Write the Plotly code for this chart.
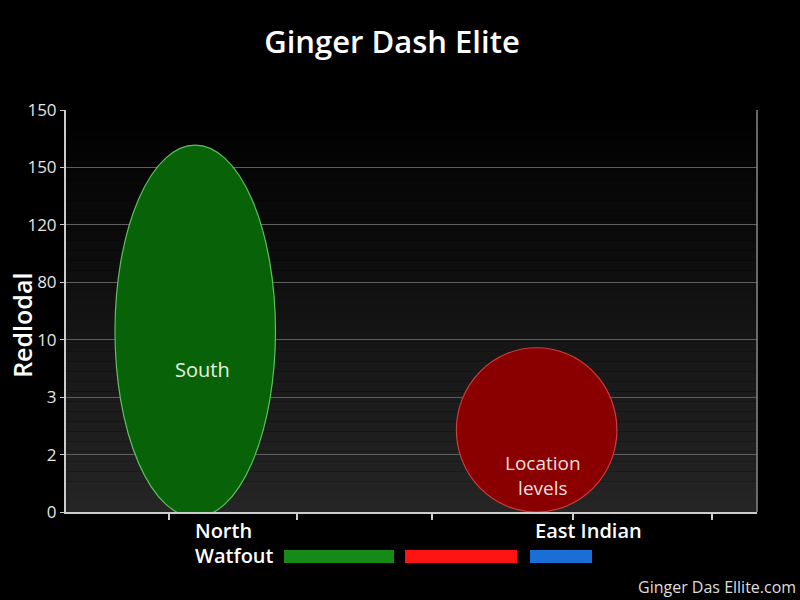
import plotly.graph_objects as go

# ---- data ----
shape_names = ["South", "Location levels"]
shape_x_center = [0.95, 3.46]
shape_x_half = [0.59, 0.59]
shape_y_low = [-0.09, 0.0]
shape_y_high = [6.39, 2.86]
shape_fill = ["#086208", "#8a0000"]
shape_edge = ["#5fbf5f", "#c84040"]

y_tick_vals = [0, 1, 2, 3, 4, 5, 6, 7]
y_tick_text = ["0", "2", "3", "10", "80", "120", "150", "150"]
x_tick_vals = [0.76, 1.7, 2.69, 3.73, 4.75]
x_labels = ["North", "East Indian"]
x_label_pos = [0.93, 3.43]
legend_title = "Watfout"
legend_colors = ["#168a16", "#ff1414", "#1a6fd6"]

FONT = "Open Sans, Segoe UI, DejaVu Sans, sans-serif"

fig = go.Figure()

# invisible trace to establish axes
fig.add_trace(go.Scatter(x=[shape_x_center[0]], y=[0], mode="markers",
                         marker=dict(opacity=0), showlegend=False, hoverinfo="skip"))

shapes = []
# gradient plot background
n = 40
for i in range(n):
    c = int(38 * (1 - (i + 0.5) / n))
    shapes.append(dict(type="rect", xref="x domain", yref="y domain",
                       x0=0, x1=1, y0=i / n, y1=(i + 1) / n,
                       fillcolor=f"rgb({c},{c},{c})", line=dict(width=0), layer="below"))

for cx, hw, lo, hi, fc, ec in zip(shape_x_center, shape_x_half, shape_y_low, shape_y_high, shape_fill, shape_edge):
    shapes.append(dict(type="circle", xref="x", yref="y",
                       x0=cx - hw, x1=cx + hw, y0=lo, y1=hi,
                       fillcolor=fc, line=dict(color=ec, width=1.2), layer="above"))

# right border
shapes.append(dict(type="line", xref="x domain", yref="y domain", x0=1, x1=1, y0=0, y1=1,
                   line=dict(color="#888888", width=1.5)))

# legend swatches
sw = [(0.3155, 0.4747), (0.4906, 0.6527), (0.6715, 0.7612)]
for (a, b), col in zip(sw, legend_colors):
    shapes.append(dict(type="rect", xref="paper", yref="paper", x0=a, x1=b,
                       y0=-0.1269, y1=-0.0945, fillcolor=col, line=dict(width=0)))

annotations = [
    dict(text="South", x=1.0, y=2.49, xref="x", yref="y", showarrow=False,
         font=dict(family=FONT, size=20, color="#e6f5e0")),
    dict(text="Location<br>levels", x=3.51, y=0.64, xref="x", yref="y", showarrow=False,
         font=dict(family=FONT, size=19, color="#f4dede")),
    dict(text="Redlodal", x=-0.064, y=0.465, xref="paper", yref="paper", showarrow=False,
         xanchor="center", yanchor="middle",
         textangle=-90, font=dict(family=FONT, size=25, color="#ffffff", weight=600)),
    dict(text=legend_title, x=0.184, y=-0.109, xref="paper", yref="paper", showarrow=False,
         xanchor="left", yanchor="middle", font=dict(family=FONT, size=20, color="#ffffff", weight=600)),
    dict(text="Ginger Das Ellite.com", x=1.0593, y=-0.1866, xref="paper", yref="paper",
         showarrow=False, xanchor="right", yanchor="middle",
         font=dict(family=FONT, size=16, color="#dddddd")),
]
for lab, pos in zip(x_labels, x_label_pos):
    annotations.append(dict(text=lab, x=pos, y=-0.047, xref="x", yref="paper", showarrow=False,
                            xanchor="left", yanchor="middle",
                            font=dict(family=FONT, size=20, color="#ffffff", weight=600)))

fig.update_layout(
    width=800, height=600,
    paper_bgcolor="#000000", plot_bgcolor="#000000",
    margin=dict(l=66, r=43, t=110, b=88),
    title=dict(text="Ginger Dash Elite", x=0.49, xanchor="center", y=0.93, yanchor="middle",
               font=dict(family=FONT, size=31, color="#ffffff", weight=600)),
    showlegend=False,
    shapes=shapes,
    annotations=annotations,
    xaxis=dict(range=[0, 5.08], tickvals=x_tick_vals, ticktext=[""] * len(x_tick_vals),
               showgrid=False, zeroline=False, showline=True, linecolor="#cccccc", linewidth=2,
               ticks="outside", ticklen=6, tickcolor="#cccccc", tickwidth=1.5),
    yaxis=dict(range=[0, 7], tickvals=y_tick_vals, ticktext=y_tick_text,
               showgrid=True, gridcolor="#5e5e5e", gridwidth=1.2, zeroline=False,
               showline=True, linecolor="#cccccc", linewidth=2,
               ticks="outside", ticklen=4, tickcolor="#cccccc",
               tickfont=dict(family=FONT, size=17, color="#e4e4e4")),
)

fig.write_html("out.html", config={"displayModeBar": False},
               post_script="document.body.style.margin='0';document.body.style.background='#000';")
